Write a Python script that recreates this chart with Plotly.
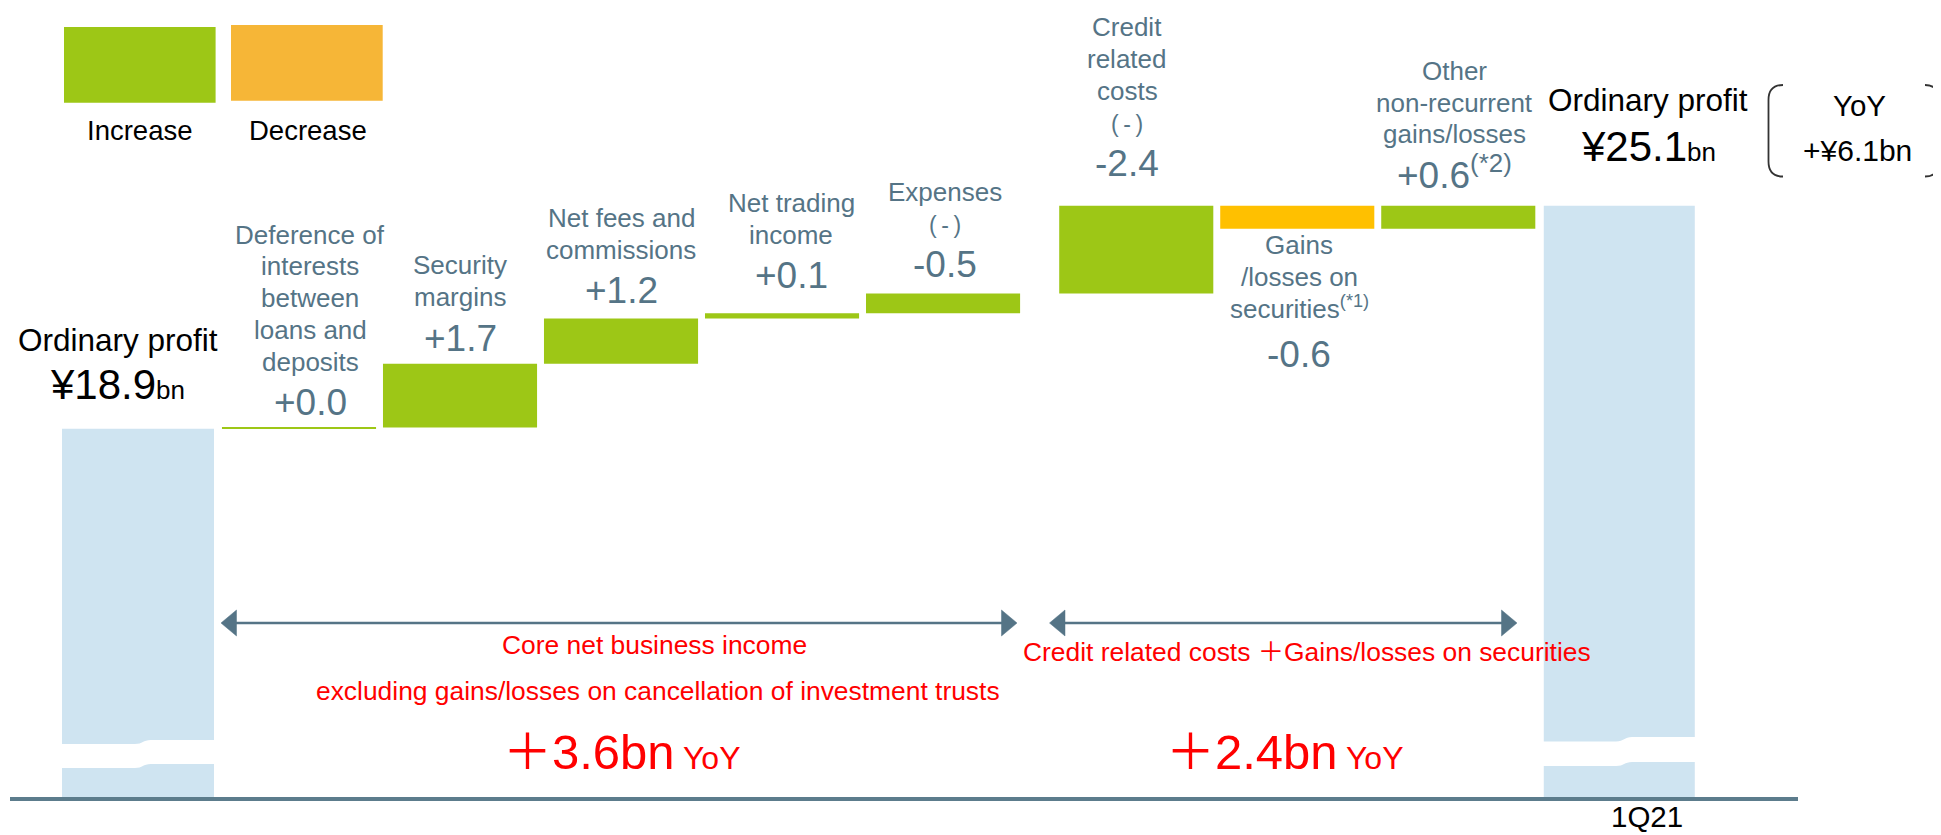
import plotly.graph_objects as go

# ---------------- data (¥bn) ----------------
categories = ["1Q20", "Deference of interests between loans and deposits", "Security margins",
              "Net fees and commissions", "Net trading income", "Expenses (-)",
              "Credit related costs (-)", "Gains/losses on securities",
              "Other non-recurrent gains/losses", "1Q21"]
start_value = 18.95
deltas = [0.04, 1.74, 1.24, 0.14, 0.54, 2.40, -0.63, 0.63]
delta_labels = ["+0.0", "+1.7", "+1.2", "+0.1", "-0.5", "-2.4", "-0.6", "+0.6"]
value_notes = ["", "", "", "", "", "", "", "(*2)"]
delta_names = ["Deference of<br>interests<br>between<br>loans and<br>deposits",
               "Security<br>margins",
               "Net fees and<br>commissions",
               "Net trading<br>income",
               "Expenses<br>(-)",
               "Credit<br>related<br>costs<br>(-)",
               "Gains<br>/losses on<br>securities<sup>(*1)</sup>",
               "Other<br>non-recurrent<br>gains/losses"]
total_name = "Ordinary profit"
total_value_labels = ["¥18.9", "¥25.1"]
total_unit = "bn"
final_tick = "1Q21"
legend_labels = ["Increase", "Decrease"]
yoy_box = ["YoY", "+¥6.1bn"]
segment_notes = [["Core net business income",
                  "excluding gains/losses on cancellation of investment trusts"],
                 ["Credit related costs ＋Gains/losses on securities"]]
segment_yoy = ["＋3.6bn", "＋2.4bn"]
yoy_suffix = "YoY"

# ---------------- styles / layout ----------------
OFF = 8                                  # page body margin of the html page
W, H = 1941 - OFF, 835 - OFF
PL, PR, PT, PB = 10, 1798, 8, 797        # plot area in page pixels
ML, MR, MT, MB = PL - OFF, W - (PR - OFF), PT - OFF, H - (PB - OFF)
PW, PH = PR - PL, PB - PT
X_RANGE = [-0.795, 10.31]
Y_RANGE = [8.88, 30.461]
GAP = 0.2
FONT = "Liberation Sans, Arial, Noto Sans CJK JP, sans-serif"
GREEN, YELLOW, LEG_ORANGE = "#9DC716", "#FFC000", "#F6B637"
BLUE, SLATE, AXIS, RED, BLACK = "#CFE4F1", "#557486", "#5C7C8C", "#FF0000", "#000000"
CS, VS, PAREN_S = 26, 37, 23
PITCH, VGAP, VGAP_BELOW = 31.8, 44, 49
LABEL_GAP = [11, 12, 14, 24, 15, 29, 8, 17]
LABEL_DX = [11, 0, 0, 9, 1.5, -9, 2, -4]
BELOW = [False, False, False, False, False, False, True, False]
TOTAL_DX, TOTAL_VGAP, TOTAL_NGAP = [-20.5, 29], [29, 44], [77, 94]
ARROWS_PX, ARROW_Y, HEAD_L, HEAD_H = [(221, 1017), (1049.5, 1517)], 623, 15.5, 13


def x_data(px):
    return X_RANGE[0] + (px - PL) / PW * (X_RANGE[1] - X_RANGE[0])


def y_data(py):
    return Y_RANGE[1] - (py - PT) / PH * (Y_RANGE[1] - Y_RANGE[0])


def xp(px):
    return (px - PL) / PW


def yp(py):
    return 1 - (py - PT) / PH


def desc(s):
    return 0.212 * s + 1


xs = [i + (GAP if i >= 6 else 0) for i in range(len(categories))]
levels = [start_value]
for d in deltas:
    levels.append(round(levels[-1] + d, 4))
final_value = levels[-1]

fig = go.Figure()
fig.add_trace(go.Bar(x=[xs[0], xs[-1]], y=[start_value, final_value], base=0,
                     width=[0.944, 0.938], marker=dict(color=BLUE, line=dict(width=0)),
                     hoverinfo="skip"))
fig.add_trace(go.Bar(x=xs[1:-1], y=deltas, base=levels[:-1], width=0.957,
                     marker=dict(color=[GREEN if d > 0 else YELLOW for d in deltas],
                                 line=dict(width=0)),
                     hoverinfo="skip"))

anns = []


def add(text, x, y, size, color, xref="x", yref="y", xshift=0, yshift=0, **kw):
    anns.append(dict(text=text, x=x, y=y, xref=xref, yref=yref, showarrow=False,
                     xanchor="center", yanchor="bottom", xshift=xshift, yshift=yshift,
                     font=dict(family=FONT, size=size, color=color), **kw))


def add_px(text, cx, baseline, size, color):
    add(text, xp(cx), yp(baseline + desc(size)), size, color, xref="paper", yref="paper")


# labels of the change bars (base_up = baseline height above the anchor, px)
for i, d in enumerate(deltas):
    x = xs[i + 1]
    lines = delta_names[i].split("<br>")
    n = len(lines)
    val = delta_labels[i] + (f"<sup>{value_notes[i]}</sup>" if value_notes[i] else "")
    y = max(levels[i], levels[i + 1]) if not BELOW[i] else min(levels[i], levels[i + 1])

    def put(text, base_up, size):
        add(text, x, y, size, SLATE, xshift=LABEL_DX[i], yshift=base_up - desc(size))

    def line_ann(line, base_up):
        if line == "(-)":
            put("(\u2009-\u2009)", base_up, PAREN_S)
        else:
            put(line, base_up, CS)

    if not BELOW[i]:
        vb = LABEL_GAP[i]
        put(val, vb, VS)
        for k, line in enumerate(lines):
            line_ann(line, vb + VGAP + (n - 1 - k) * PITCH)
    else:
        first_b = LABEL_GAP[i] + 0.716 * CS
        for k, line in enumerate(lines):
            line_ann(line, -(first_b + k * PITCH))
        put(val, -(first_b + (n - 1) * PITCH + VGAP_BELOW), VS)

# labels of the two totals
for k, (xv, yv) in enumerate([(xs[0], start_value), (xs[-1], final_value)]):
    add(f"{total_value_labels[k]}<span style='font-size:26px'>{total_unit}</span>",
        xv, yv, 42, BLACK, xshift=TOTAL_DX[k], yshift=TOTAL_VGAP[k] - desc(42))
    add(total_name, xv, yv, 31.5, BLACK, xshift=TOTAL_DX[k], yshift=TOTAL_NGAP[k] - desc(31.5))

# category tick of the final bar
add(final_tick, xs[-1], Y_RANGE[0], 29.5, BLACK, xshift=28, yshift=-(827.5 - PB) - desc(29.5))

# custom legend
shapes = []
for (x0, y0, x1, y1), col in zip([(64, 27, 215.6, 102.7), (231, 25, 382.7, 100.7)], [GREEN, LEG_ORANGE]):
    shapes.append(dict(type="rect", xref="paper", yref="paper", x0=xp(x0), x1=xp(x1),
                       y0=yp(y1), y1=yp(y0), fillcolor=col, line=dict(width=0)))
for lab, cx in zip(legend_labels, [139, 307.7]):
    add_px(lab, cx, 140.7, 27.5, BLACK)


def pt(a, b):
    return f"{xp(a):.5f},{yp(b):.5f}"


# YoY bracket box
for xv, xe in [(1768.5, 1783), (1938.5, 1925)]:
    shapes.append(dict(type="path", xref="paper", yref="paper", line=dict(color="#333333", width=1.8),
                       path=(f"M{pt(xe, 85)} Q{pt(xv, 85)} {pt(xv, 100)} L{pt(xv, 161.5)} "
                             f"Q{pt(xv, 176.5)} {pt(xe, 176.5)}")))
add_px(yoy_box[0], 1859, 116.7, 29.5, BLACK)
add_px(yoy_box[1], 1857.5, 161.7, 30, BLACK)

# segment notes (red)
add_px(segment_notes[0][0], 654, 655, 26.4, RED)
add_px(segment_notes[0][1], 658, 701.7, 26.4, RED)
add_px(segment_notes[1][0], 1307, 662, 26.4, RED)
for txt, cx in zip(segment_yoy, [621.5, 1284]):
    add_px(f"{txt}<span style='font-size:32px'> {yoy_suffix}</span>", cx, 770, 49, RED)

# double-headed arrows over the two segments
for x0, x1 in ARROWS_PX:
    shapes.append(dict(type="line", xref="paper", yref="paper",
                       x0=xp(x0 + HEAD_L - 1), x1=xp(x1 - HEAD_L + 1), y0=yp(ARROW_Y), y1=yp(ARROW_Y),
                       line=dict(color=SLATE, width=2.5)))
    for tip, back in [(x0, x0 + HEAD_L), (x1, x1 - HEAD_L)]:
        shapes.append(dict(type="path", xref="paper", yref="paper", fillcolor=SLATE,
                           line=dict(color=SLATE, width=0.5),
                           path=(f"M{pt(tip, ARROW_Y)} L{pt(back, ARROW_Y - HEAD_H)} "
                                 f"L{pt(back, ARROW_Y + HEAD_H)} Z")))

# axis-break marks on the two total bars
for bi, (tl, tr, bl, br) in zip([0, len(xs) - 1], [(744, 740, 768, 764), (741.5, 737, 766, 762)]):
    c = xs[bi]
    xl, xr, xm, dd = c - 0.49, c + 0.49, c + 0.03, 0.05
    p = (f"M{xl},{y_data(tl)} L{xm - dd},{y_data(tl)} "
         f"C{xm},{y_data(tl)} {xm},{y_data(tr)} {xm + dd},{y_data(tr)} "
         f"L{xr},{y_data(tr)} L{xr},{y_data(br)} L{xm + dd},{y_data(br)} "
         f"C{xm},{y_data(br)} {xm},{y_data(bl)} {xm - dd},{y_data(bl)} "
         f"L{xl},{y_data(bl)} Z")
    shapes.append(dict(type="path", xref="x", yref="y", path=p, fillcolor="white",
                       line=dict(width=0), layer="above"))

fig.update_layout(
    width=W, height=H, margin=dict(l=ML, r=MR, t=MT, b=MB, pad=0),
    paper_bgcolor="white", plot_bgcolor="white", showlegend=False, barmode="overlay",
    xaxis=dict(range=X_RANGE, showgrid=False, zeroline=False, showline=True, linewidth=4,
               linecolor=AXIS, showticklabels=False, ticks="", fixedrange=True),
    yaxis=dict(range=Y_RANGE, visible=False, fixedrange=True),
    annotations=anns, shapes=shapes, font=dict(family=FONT),
)
fig.write_html("out.html")
